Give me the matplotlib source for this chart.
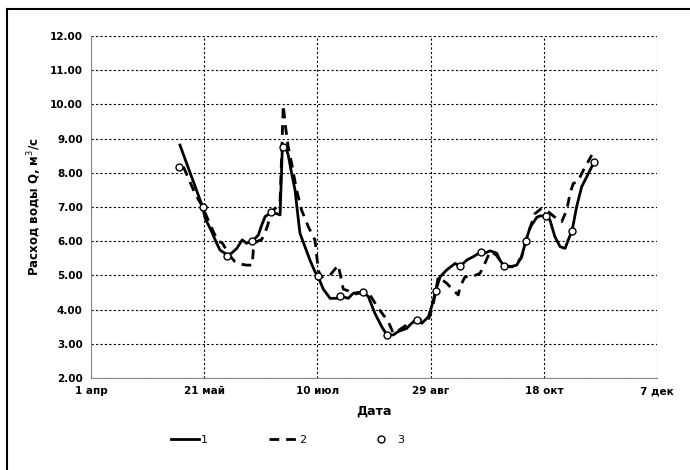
import matplotlib
matplotlib.use('Agg')
import matplotlib.pyplot as plt
from matplotlib.lines import Line2D

plt.rcParams['font.family'] = ['Liberation Sans Narrow', 'DejaVu Sans']

# days counted from 1 апр
tick_days = [0, 50, 100, 150, 200, 250]
tick_labels = ['1 апр', '21 май', '10 июл', '29 авг', '18 окт', '7 дек']

# series 1 (solid)
days1 = [39.3, 42, 45, 49.3, 50.4, 53.3, 55.5, 57, 60.2, 62.1, 64.4, 66.8, 68.7,
         71.3, 73.9, 75.4, 76.9, 79.5, 81.3, 83.5, 84.5, 85.7, 87.1, 88.6, 90.1,
         91.6, 92.3, 94.5, 96.7, 98.9, 100.1, 102.6, 105.6, 108.5, 110, 113.6,
         115.9, 118, 120.3, 122.5, 125.4, 128.4, 130.7, 133.5, 135.7, 139.4,
         141.6, 144, 146.1, 149, 150.5, 152.2, 154.2, 157.1, 160.8, 163.1, 166,
         168.9, 172.1, 174, 176.2, 179.2, 180.6, 182.3, 185, 188, 190.2, 192,
         193.9, 196.9, 198.3, 201, 202.7, 204.9, 207.2, 209.4, 210.8, 212.5,
         214.5, 216.7, 219, 221.2, 222.3]
flow1 = [8.81, 8.32, 7.78, 7.0, 6.67, 6.28, 5.94, 5.74, 5.6, 5.65, 5.79, 6.04, 5.94,
         6.0, 6.18, 6.47, 6.72, 6.84, 6.82, 6.77, 8.72, 8.81, 8.52, 7.99, 7.5,
         6.62, 6.23, 5.84, 5.45, 5.11, 4.99, 4.6, 4.33, 4.33, 4.4, 4.33,
         4.48, 4.5, 4.51, 4.38, 3.89, 3.5, 3.26, 3.26, 3.36, 3.45,
         3.6, 3.7, 3.6, 3.79, 4.1, 4.54, 4.96, 5.16, 5.35, 5.27, 5.45,
         5.55, 5.68, 5.65, 5.72, 5.65, 5.45, 5.28, 5.25, 5.3, 5.55, 6.0,
         6.4, 6.7, 6.74, 6.74, 6.62, 6.13, 5.84, 5.79, 6.04, 6.31,
         7.01, 7.59, 7.89, 8.18, 8.32]

# series 2 (dashed)
days2 = [40.8, 43, 45.9, 49.3, 51.1, 54, 56.2, 58, 61, 63.6, 66, 68.8, 71.2, 71.7,
         73.2, 75.4, 77.6, 79.8, 82, 83.5, 84.2, 84.9, 86, 87.1, 88.6, 90.8, 93,
         96, 98.9, 100.4, 101.5, 105.6, 109.2, 110.5, 111.4, 113.6, 116, 120.3,
         123, 126.9, 131.3, 133.5, 136, 139.4, 144, 149, 151, 153.4, 157.1, 160,
         162.2, 163, 165.2, 168.2, 171.8, 173.3, 176.2, 179, 182, 186, 190, 193,
         196, 199, 202, 206.4, 207.9, 210.1, 211.6, 213, 215, 217.5, 221.2]
flow2 = [8.18, 7.84, 7.40, 7.0, 6.72, 6.28, 6.0, 5.95, 5.6, 5.40, 5.33, 5.30, 5.30, 5.75,
         5.99, 6.05, 6.38, 6.86, 7.0, 7.15, 8.5, 9.98, 9.3, 8.76, 8.28, 7.50, 6.91,
         6.42, 6.04, 5.16, 4.95, 5.01, 5.30, 4.9, 4.6, 4.55, 4.45, 4.5,
         4.45, 4.04, 3.65, 3.31, 3.4, 3.55, 3.7, 3.70, 4.1, 4.96, 4.77, 4.57,
         4.43, 4.67, 4.96, 4.96, 5.06, 5.25, 5.69, 5.6, 5.3, 5.25, 5.5, 6.2,
         6.8, 6.96, 6.86, 6.62, 6.57, 6.91, 7.40, 7.69, 7.74, 8.08, 8.52]

# series 3 (points)
days3 = [38.9, 49.3, 60.2, 71.3, 79.5, 84.9, 100.1, 110, 120.3, 130.7, 144,
         152.2, 163.1, 172.1, 182.3, 192, 201, 212.5, 222.3]
flow3 = [8.17, 7.01, 5.58, 6.0, 6.84, 8.75, 4.99, 4.40, 4.51, 3.26, 3.70,
         4.54, 5.27, 5.68, 5.28, 6.0, 6.74, 6.31, 8.32]

fig = plt.figure(figsize=(6.9, 4.7), dpi=100)
ax = fig.add_axes([0.1319, 0.1957, 0.8203, 0.7277])

ax.plot(days1, flow1, color='black', lw=2.0, solid_joinstyle='round', zorder=3)
ax.plot(days2, flow2, color='black', lw=2.0, linestyle=(0, (3.5, 2.5)), zorder=3)
ax.plot(days3, flow3, linestyle='none', marker='o', ms=5, mfc='white',
        mec='black', mew=1.0, zorder=4)

ax.set_xlim(0, 250)
ax.set_ylim(2, 12)
ax.set_xticks(tick_days)
ax.set_xticklabels(tick_labels, fontsize=7.5, fontweight='bold')
ax.set_yticks(range(2, 13))
ax.set_yticklabels([f'{v:.2f}' for v in range(2, 13)], fontsize=7.5, fontweight='bold')
ax.tick_params(length=0, pad=6)

ax.grid(True, color='black', linestyle=(0, (2, 2)), lw=0.8)
for s in ['top', 'right']:
    ax.spines[s].set_visible(False)
ax.spines['left'].set_color('#888888')
ax.spines['bottom'].set_color('#888888')

ax.set_xlabel('Дата', fontsize=9, fontweight='bold', labelpad=6)
ax.set_ylabel('Расход воды Q, м$^3$/с', fontsize=8.5, fontweight='bold', labelpad=4)

handles = [Line2D([], [], color='black', lw=2.0),
           Line2D([], [], color='black', lw=2.0, linestyle=(0, (3.5, 2.5))),
           Line2D([], [], linestyle='none', marker='o', ms=5, mfc='white', mec='black')]
fig.legend(handles, ['1', '2', '3'], loc='center', bbox_to_anchor=(0.417, 0.064),
           ncol=3, frameon=False, fontsize=8, columnspacing=5.5, handlelength=2.5,
           handletextpad=0.2)

# outer chart frame (left and top only visible)
fig.add_artist(Line2D([0.010, 0.010], [0.0, 0.981], color='black', lw=1.5))
fig.add_artist(Line2D([0.010, 1.0], [0.981, 0.981], color='black', lw=1.5))

fig.savefig('out.png', dpi=100)
